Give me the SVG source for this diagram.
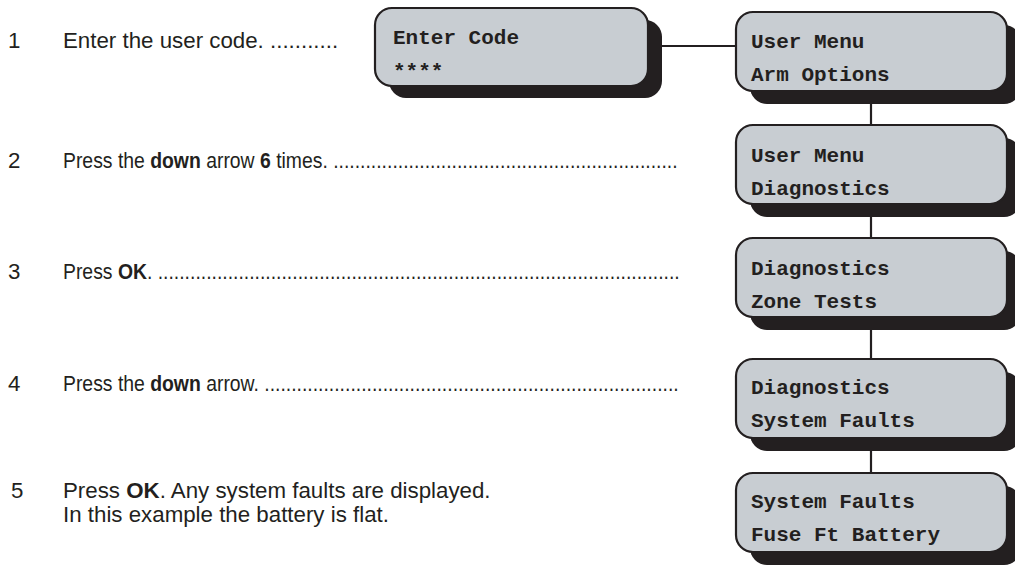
<svg xmlns="http://www.w3.org/2000/svg" width="1015" height="565" viewBox="0 0 1015 565">
<defs>
<style>
.shadow{fill:#231f20;}
.panel{fill:#c8cdd2;stroke:#231f20;stroke-width:2.2;}
.lcd{font-family:"Liberation Mono","Courier New",monospace;font-weight:bold;font-size:21px;fill:#231f20;}
.step{font-family:"Liberation Sans",Arial,Helvetica,sans-serif;font-size:22.3px;fill:#231f20;}
.cond{font-family:"Liberation Sans",Arial,Helvetica,sans-serif;font-size:22px;fill:#231f20;}
.b{font-weight:bold;}
.conn{stroke:#231f20;stroke-width:2.2;fill:none;}
</style>
</defs>
<rect width="1015" height="565" fill="#ffffff"/>

<g id="connectors">
<line class="conn" x1="648" y1="46" x2="736" y2="46"/>
<line class="conn" x1="871" y1="91" x2="871" y2="125"/>
<line class="conn" x1="871" y1="204" x2="871" y2="238"/>
<line class="conn" x1="871" y1="317" x2="871" y2="359"/>
<line class="conn" x1="871" y1="438" x2="871" y2="473"/>
</g>

<g id="steps">
<text class="step" x="8" y="48">1</text>
<text class="step" x="63" y="48">Enter the user code. ...........</text>

<text class="step" x="8" y="168">2</text>
<g transform="translate(63 0) scale(0.881 1)">
<text class="cond" x="0" y="168">Press the <tspan class="b">down</tspan> arrow <tspan class="b">6</tspan> times. ................................................................</text>
</g>

<text class="step" x="8" y="279">3</text>
<g transform="translate(63 0) scale(0.881 1)">
<text class="cond" x="0" y="279">Press <tspan class="b">OK</tspan>. .................................................................................................</text>
</g>

<text class="step" x="8" y="391">4</text>
<g transform="translate(63 0) scale(0.881 1)">
<text class="cond" x="0" y="391">Press the <tspan class="b">down</tspan> arrow. .............................................................................</text>
</g>

<text class="step" x="11" y="498">5</text>
<text class="step" x="63" y="498">Press <tspan class="b">OK</tspan>. Any system faults are displayed.</text>
<text class="step" x="63" y="522">In this example the battery is flat.</text>
</g>

<g id="enter-code">
<rect class="shadow" x="389" y="20" width="273" height="78" rx="17"/>
<rect class="panel" x="375" y="8" width="273" height="78" rx="17"/>
<text class="lcd" x="393" y="44">Enter Code</text>
<text class="lcd" x="393" y="78">****</text>
</g>

<g id="user-menu-arm">
<rect class="shadow" x="750" y="25" width="271" height="79" rx="17"/>
<rect class="panel" x="736" y="12" width="271" height="79" rx="17"/>
<text class="lcd" x="751" y="48">User Menu</text>
<text class="lcd" x="751" y="81">Arm Options</text>
</g>

<g id="user-menu-diag">
<rect class="shadow" x="750" y="138" width="271" height="79" rx="17"/>
<rect class="panel" x="736" y="125" width="271" height="79" rx="17"/>
<text class="lcd" x="751" y="162">User Menu</text>
<text class="lcd" x="751" y="195">Diagnostics</text>
</g>

<g id="diag-zone">
<rect class="shadow" x="750" y="251" width="271" height="79" rx="17"/>
<rect class="panel" x="736" y="238" width="271" height="79" rx="17"/>
<text class="lcd" x="751" y="275">Diagnostics</text>
<text class="lcd" x="751" y="308">Zone Tests</text>
</g>

<g id="diag-faults">
<rect class="shadow" x="750" y="372" width="271" height="79" rx="17"/>
<rect class="panel" x="736" y="359" width="271" height="79" rx="17"/>
<text class="lcd" x="751" y="394">Diagnostics</text>
<text class="lcd" x="751" y="427">System Faults</text>
</g>

<g id="faults-battery">
<rect class="shadow" x="750" y="486" width="271" height="79" rx="17"/>
<rect class="panel" x="736" y="473" width="271" height="79" rx="17"/>
<text class="lcd" x="751" y="508">System Faults</text>
<text class="lcd" x="751" y="541">Fuse Ft Battery</text>
</g>
</svg>
